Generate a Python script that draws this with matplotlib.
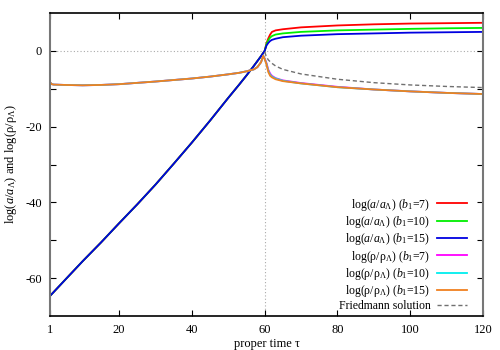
import numpy as np
import matplotlib
matplotlib.use("Agg")
import matplotlib.pyplot as plt

plt.rcParams['font.family'] = ['Liberation Serif', 'DejaVu Serif']
plt.rcParams['mathtext.fontset'] = 'custom'
plt.rcParams['mathtext.rm'] = 'Liberation Serif'
plt.rcParams['mathtext.it'] = 'Liberation Serif:italic'

# --- data ---
# common growth of log(a/a_L) before tau = 60 (all b1 overlap)
tau_pre = [1, 5, 10, 15, 20, 25, 30, 35, 40, 45, 50, 53, 55, 57, 58, 59, 60]
loga_pre = [-64.7, -60.6, -55.5, -50.6, -45.5, -40.5, -35.3, -29.8, -24.2,
            -18.4, -12.4, -8.9, -6.5, -4.0, -2.7, -1.4, 0.0]

# common log(rho/rho_L) before tau = 60
tau_rho_pre = [1, 1.5, 2, 5, 10, 15, 20, 30, 40, 45, 50, 53, 55, 57, 58, 59, 59.6]
logrho_pre = [-8.3, -8.8, -8.9, -9.0, -9.1, -9.0, -8.8, -8.1, -7.3, -6.8,
              -6.2, -5.8, -5.4, -4.9, -4.3, -3.0, -1.3]

# after tau = 60
tau_post = [60, 60.5, 61, 61.5, 62, 63, 65, 70, 80, 90, 100, 110, 120]
loga_b7 = [0.0, 2.0, 3.3, 4.3, 5.0, 5.4, 5.7, 6.2, 6.7, 7.0, 7.2, 7.3, 7.4]
loga_b10 = [0.0, 1.8, 2.8, 3.5, 3.9, 4.3, 4.6, 5.0, 5.4, 5.6, 5.8, 5.95, 6.05]
loga_b15 = [0.0, 1.4, 2.1, 2.6, 2.9, 3.2, 3.6, 4.0, 4.4, 4.6, 4.8, 4.9, 5.0]

tau_rho_post = [59.6, 60, 60.5, 61, 61.5, 62, 63, 65, 70, 80, 90, 100, 110, 120]
logrho_b7 = [-1.3, -2.0, -3.2, -5.0, -6.0, -6.6, -7.2, -7.8, -8.5, -9.5,
             -10.2, -10.7, -11.1, -11.4]
logrho_b10 = [-1.3, -2.1, -3.4, -5.3, -6.3, -6.8, -7.3, -7.9, -8.6, -9.6,
              -10.2, -10.7, -11.1, -11.4]
logrho_b15 = [-1.3, -2.2, -3.6, -5.6, -6.6, -7.0, -7.5, -8.0, -8.6, -9.6,
              -10.2, -10.7, -11.1, -11.4]

tau_fried = [60, 60.5, 61, 62, 63, 65, 70, 80, 90, 100, 110, 120]
log_fried = [-0.3, -1.6, -2.4, -3.3, -4.0, -4.9, -6.1, -7.5, -8.4, -9.0, -9.4, -9.7]

labels = [r'log($a/a_{\Lambda}$) ($b_1$=7)',
          r'log($a/a_{\Lambda}$) ($b_1$=10)',
          r'log($a/a_{\Lambda}$) ($b_1$=15)',
          r'log(ρ/ρ$_{\Lambda}$) ($b_1$=7)',
          r'log(ρ/ρ$_{\Lambda}$) ($b_1$=10)',
          r'log(ρ/ρ$_{\Lambda}$) ($b_1$=15)',
          'Friedmann solution']
colors = ['#ff0000', '#00ee00', '#0000e0', '#ff00ff', '#00eeee', '#f08020']

fig = plt.figure(figsize=(5.0, 3.5), dpi=100)
ax = fig.add_axes([0.1, 0.097, 0.866, 0.866])

ax.axhline(0, color='#aaaaaa', ls=(0, (1, 2)), lw=0.8, zorder=1)
ax.axvline(60, color='#aaaaaa', ls=(0, (1, 2)), lw=0.8, zorder=1)

loga_sets = [loga_b7, loga_b10, loga_b15]
rho_sets = [logrho_b7, logrho_b10, logrho_b15]

for i in range(3):
    ax.plot(tau_pre + tau_post[1:], loga_pre + loga_sets[i][1:],
            color=colors[i], lw=1.3, label=labels[i])
for i in range(3):
    ax.plot(tau_rho_pre + tau_rho_post[1:], logrho_pre + rho_sets[i][1:],
            color=colors[3 + i], lw=1.3, label=labels[3 + i])
ax.plot(tau_fried, log_fried, color='#707070', ls=(0, (3, 2)), lw=1.0,
        label=labels[6])

ax.set_xlim(1, 120)
ax.set_ylim(-70, 10)
ax.set_xticks([1, 20, 40, 60, 80, 100, 120])
ax.set_yticks(np.arange(-60, 10, 10))
ax.set_yticklabels(['-60', '', '-40', '', '-20', '', '0'])
ax.tick_params(direction='in', top=True, right=True, labelsize=9,
               length=4, width=0.8, pad=6)

for side in ['left', 'right']:
    ax.spines[side].set_color('#777777')
    ax.spines[side].set_linewidth(1.5)
for side in ['top', 'bottom']:
    ax.spines[side].set_linewidth(1.2)

ax.set_xlabel('proper time τ', fontsize=9, labelpad=1)
ax.set_ylabel(r'log($a/a_{\Lambda}$) and log(ρ/ρ$_{\Lambda}$)', fontsize=9)

ax.legend(loc='lower right', bbox_to_anchor=(0.963, 0.012), frameon=False,
          markerfirst=False, fontsize=8.5, handlelength=2.5,
          labelspacing=0.11, borderaxespad=0, borderpad=0,
          handletextpad=0.6)

fig.savefig('out.png', dpi=100)
